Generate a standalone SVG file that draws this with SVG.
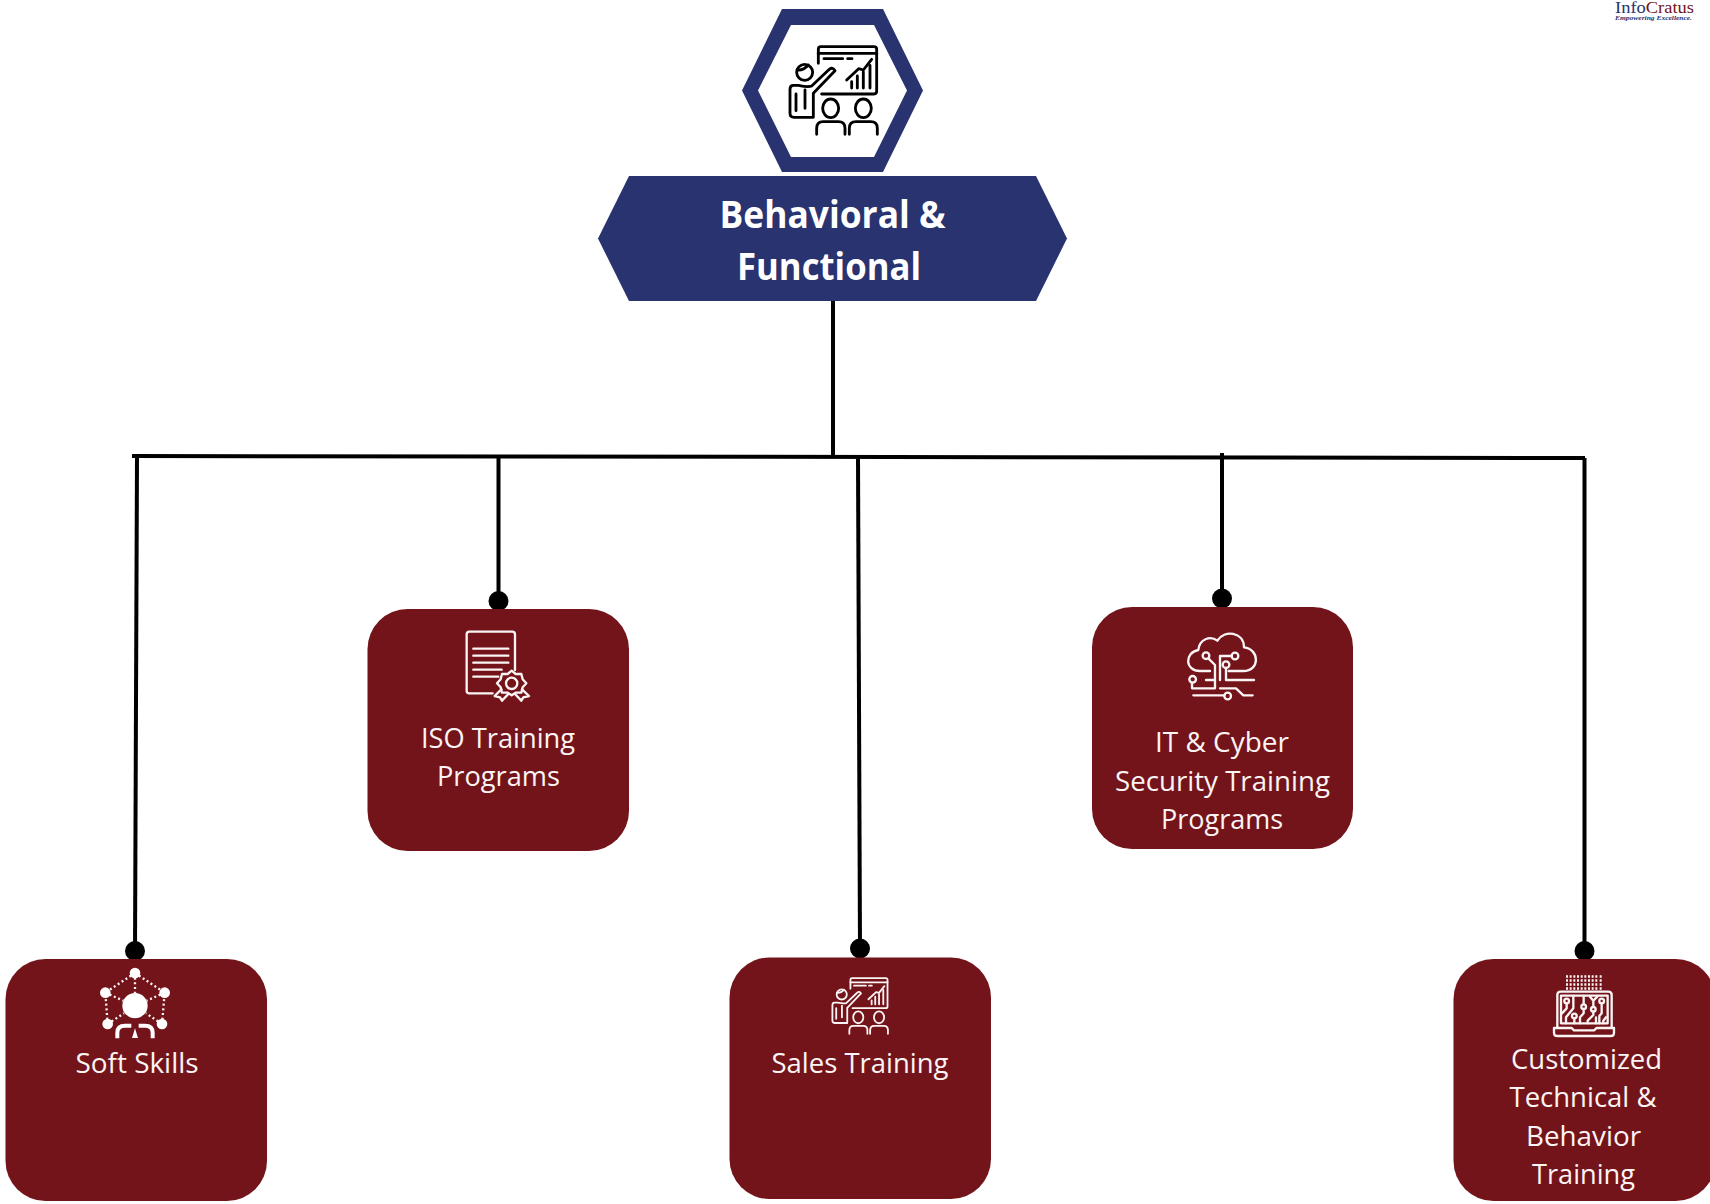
<svg xmlns="http://www.w3.org/2000/svg" width="1710" height="1204" viewBox="0 0 1710 1204">
<style>
.card{fill:#73141b}
.navy{fill:#283370}
.lbl{font-family:"Open Sans","Noto Sans",sans-serif;font-size:27.500px;fill:#fbf4f4;text-anchor:middle}
.ttl{font-family:"Open Sans","Noto Sans",sans-serif;font-size:37px;font-weight:700;fill:#fff;text-anchor:middle}
.conn{fill:none;stroke:#000;stroke-width:4}
.ic{fill:none;stroke:#fbf4f4;stroke-width:7;stroke-linecap:round;stroke-linejoin:round}
.dot{fill:none;stroke:#fbf4f4;stroke-width:7;stroke-dasharray:6 8}
.solid{fill:#fff;stroke:none}
.ser{font-family:"Liberation Serif",serif}
</style>
<defs>
<marker id="dot" markerUnits="userSpaceOnUse" markerWidth="22" markerHeight="22" refX="11" refY="11" orient="auto"><circle cx="11" cy="11" r="10" fill="#000"/></marker>
<g id="presenter" fill="none" stroke-width="8.500" stroke-linecap="round" stroke-linejoin="round">
<path d="M685,190V148Q685,140 693,140H852Q860,140 860,148V274Q860,282 852,282H695"/>
<path d="M685,160H860"/>
<path d="M702,176H758M773,176H786"/>
<path d="M770,240L806,206L820,210L845,178"/>
<path d="M785,264V245M802,264V228M820,264V216M840,264V196"/>
<circle cx="644" cy="217" r="24"/>
<path d="M622,210Q640,212 655,195"/>
<path d="M625,256H610Q600,256 600,268V340Q600,352 612,352H670V280L735,212Q728,200 718,208L665,258Q655,262 625,256Z"/>
<path d="M645,270V325M618,282V332"/>
<ellipse cx="722" cy="325" rx="24" ry="28"/>
<ellipse cx="820" cy="325" rx="24" ry="28"/>
<path d="M680,403V385Q680,365 700,365H745Q765,365 765,385V403"/>
<path d="M778,403V385Q778,365 798,365H842Q862,365 862,385V403"/>
</g>
</defs>

<g id="connectors">
<path class="conn" d="M833,301V457"/>
<path class="conn" d="M132,456L1585,458"/>
<path class="conn" d="M137,456L135,951" marker-end="url(#dot)"/>
<path class="conn" d="M498.500,457V601" marker-end="url(#dot)"/>
<path class="conn" d="M858,458L860,948.500" marker-end="url(#dot)"/>
<path class="conn" d="M1222,453V598.500" marker-end="url(#dot)"/>
<path class="conn" d="M1584.500,458V951" marker-end="url(#dot)"/>
</g>

<g id="hexagon-icon">
<path class="navy" fill-rule="evenodd" d="M782,9H883L923,90.500L883,172H782L742,90.500ZM791,25L758,90.500L791,157H874L907,90.500L874,25Z"/>
<use href="#presenter" transform="translate(590,0) scale(.33333)" stroke="#000"/>
</g>

<g id="title">
<path class="navy" d="M629,176H1036L1067,238.500L1036,301H629L598,238.500Z"/>
<text class="ttl" x="832.500" y="228" textLength="226" lengthAdjust="spacingAndGlyphs">Behavioral &amp;</text>
<text class="ttl" x="829" y="280" textLength="184" lengthAdjust="spacingAndGlyphs">Functional</text>
</g>

<g id="soft-skills">
<rect class="card" x="5.500" y="959" width="261.500" height="242" rx="40"/>
<g transform="translate(0,930) scale(.33333)">
<path class="dot" d="M405,129L494,188L486,282M405,129L316,188L323,282M405,129V190M316,188L370,212M494,188L440,212M323,282L372,250M486,282L438,250"/>
<circle class="solid" cx="405" cy="227" r="38"/>
<circle class="solid" cx="405" cy="129" r="16"/>
<circle class="solid" cx="316" cy="188" r="16"/>
<circle class="solid" cx="494" cy="188" r="16"/>
<circle class="solid" cx="323" cy="282" r="16"/>
<circle class="solid" cx="486" cy="282" r="16"/>
<path fill="none" stroke="#fff" stroke-width="12" d="M352,325V308Q352,287 375,287H394M458,325V308Q458,287 435,287H416"/>
<path class="solid" d="M405,295L396,324H414Z"/>
</g>
<text class="lbl" x="137" y="1073" textLength="123" lengthAdjust="spacingAndGlyphs">Soft Skills</text>
</g>

<g id="iso-training">
<rect class="card" x="367.500" y="609" width="261.500" height="242" rx="40"/>
<g class="ic" transform="translate(360,590) scale(.33333)">
<path d="M398,310H328Q320,310 320,302V133Q320,125 328,125H457Q465,125 465,133V240"/>
<path d="M340,176H445M340,197H445M340,218H445M340,239H425M340,260H415"/>
<path d="M455,242L467,252L484,252L488,268L499,280L488,292L484,308L467,308L455,316L443,308L426,308L422,292L411,280L422,268L426,252L443,252Z"/>
<circle cx="455" cy="280" r="17"/>
<path d="M424,298L404,318L420,322L426,332L445,312M486,298L507,318L490,322L484,332L465,312"/>
</g>
<text class="lbl" x="498" y="748" textLength="154" lengthAdjust="spacingAndGlyphs">ISO Training</text>
<text class="lbl" x="498.500" y="786" textLength="123" lengthAdjust="spacingAndGlyphs">Programs</text>
</g>

<g id="it-cyber">
<rect class="card" x="1092" y="607" width="261" height="242" rx="40"/>
<g class="ic" transform="translate(1080,590) scale(.33333)">
<path d="M390,243H360C315,243 312,188 355,180C358,148 390,135 412,152C432,118 492,125 492,172C540,178 540,243 490,243H446"/>
<circle cx="378" cy="197" r="10"/>
<path d="M385,205L405,225V295H336V278"/>
<circle cx="338" cy="268" r="10"/>
<path d="M378,270H405"/>
<circle cx="438" cy="224" r="10"/>
<path d="M438,234V270H522"/>
<circle cx="465" cy="198" r="10"/>
<path d="M455,198H420V270"/>
<path d="M340,316H433"/>
<circle cx="443" cy="318" r="10"/>
<path d="M420,295H468L490,316H518"/>
</g>
<text class="lbl" x="1222" y="752" textLength="134" lengthAdjust="spacingAndGlyphs">IT &amp; Cyber</text>
<text class="lbl" x="1222.500" y="791" textLength="215" lengthAdjust="spacingAndGlyphs">Security Training</text>
<text class="lbl" x="1222" y="829" textLength="122" lengthAdjust="spacingAndGlyphs">Programs</text>
</g>

<g id="sales-training">
<rect class="card" x="729.500" y="957.500" width="261.500" height="241.500" rx="40"/>
<use href="#presenter" transform="translate(705.200,948.400) scale(.212)" stroke="#fbf4f4"/>
<text class="lbl" x="860" y="1073" textLength="177" lengthAdjust="spacingAndGlyphs">Sales Training</text>
</g>

<g id="customized-training">
<rect class="card" x="1453.500" y="959" width="262" height="242" rx="40"/>
<g transform="translate(1440,930) scale(.33333)">
<path fill="none" stroke="#fbf4f4" stroke-width="6" stroke-dasharray="7 5" d="M381,136V180M392,136V180M403,136V180M414,136V180M425,136V180M436,136V180M447,136V180M458,136V180M469,136V180M482,136V180"/>
<g class="ic">
<path d="M352,292V195Q352,185 362,185H505Q515,185 515,195V292"/>
<path d="M363,280V197H503V280H363Z"/>
<path d="M352,294H395L402,301H462L470,294H522V308Q522,318 512,318H352Q342,318 342,308V294Z"/>
<circle cx="380" cy="213" r="7"/>
<path d="M380,220V235L366,250M400,198V235L378,262V280"/>
<circle cx="403" cy="258" r="7"/>
<path d="M403,265V280"/>
<circle cx="431" cy="230" r="7"/>
<path d="M431,198V223M431,237V250L420,262V280"/>
<path d="M450,200L460,212L472,200M460,212V230"/>
<circle cx="460" cy="238" r="7"/>
<path d="M460,245V255L443,272V280M468,262V280"/>
<circle cx="485" cy="213" r="7"/>
<path d="M485,220V250L478,258V280M498,262L490,272V280"/>
</g>
</g>
<text class="lbl" x="1586.500" y="1069" textLength="151" lengthAdjust="spacingAndGlyphs">Customized</text>
<text class="lbl" x="1583" y="1107" textLength="147" lengthAdjust="spacingAndGlyphs">Technical &amp;</text>
<text class="lbl" x="1583.500" y="1146" textLength="115" lengthAdjust="spacingAndGlyphs">Behavior</text>
<text class="lbl" x="1583.500" y="1184" textLength="103" lengthAdjust="spacingAndGlyphs">Training</text>
</g>

<g id="logo">
<text class="ser" x="1615" y="13" font-size="16.500" fill="#283370" textLength="79" lengthAdjust="spacingAndGlyphs">Info<tspan fill="#73141b">Cratus</tspan></text>
<text class="ser" x="1615" y="20" font-size="6.500" font-weight="700" font-style="italic" fill="#283370" textLength="77" lengthAdjust="spacingAndGlyphs">Empowering Excellence.</text>
</g>
</svg>
